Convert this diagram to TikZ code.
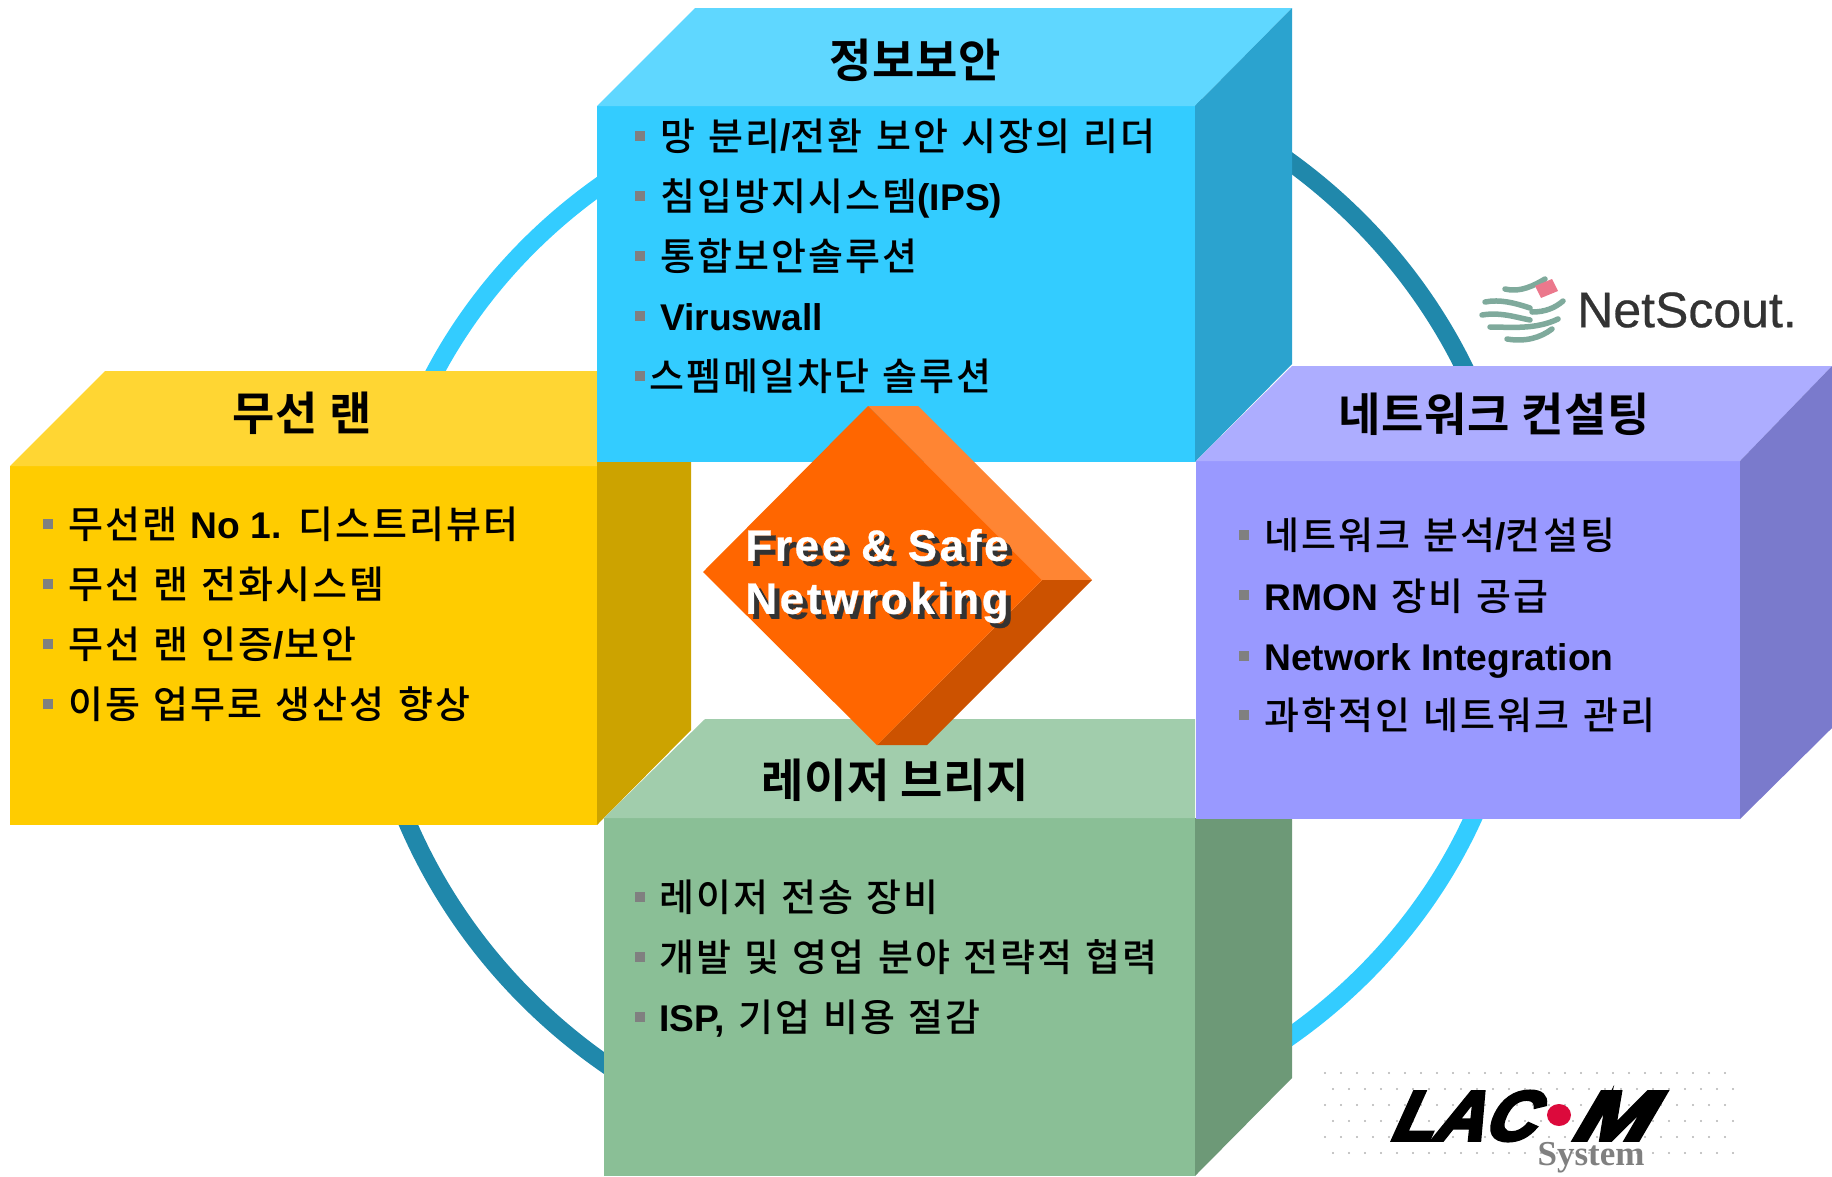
\documentclass[tikz,border=0pt]{standalone}
\usepackage{fontspec}
\setmainfont[WordSpace=1.25]{Noto Sans CJK KR Medium}
\newfontfamily\krbold{Noto Sans CJK KR Bold}
\newfontfamily\latbold{Liberation Sans Bold}
\newfontfamily\latplain{Liberation Sans}
\newfontfamily\serifbold{Liberation Serif Bold}
\newcommand{\lat}[1]{{\latbold\fontsize{37.2}{37.2}\selectfont #1}}
\definecolor{skyfront}{HTML}{33CCFF}
\definecolor{skytop}{HTML}{5FD7FF}
\definecolor{skyside}{HTML}{2BA3CF}
\definecolor{goldfront}{HTML}{FFCC00}
\definecolor{goldtop}{HTML}{FFD633}
\definecolor{goldside}{HTML}{CCA300}
\definecolor{lilacfront}{HTML}{9999FF}
\definecolor{lilactop}{HTML}{ADADFF}
\definecolor{lilacside}{HTML}{7A7ACC}
\definecolor{sagefront}{HTML}{8ABF96}
\definecolor{sagetop}{HTML}{A1CDAC}
\definecolor{sageside}{HTML}{6D9977}
\definecolor{ringdark}{HTML}{2088AB}
\definecolor{flamefront}{HTML}{FF6600}
\definecolor{flametop}{HTML}{FF8533}
\definecolor{flameside}{HTML}{CC5200}
\definecolor{shadowgrey}{HTML}{333333}
\definecolor{globegreen}{HTML}{7FAA9C}
\definecolor{globepink}{HTML}{EB788C}
\definecolor{dotred}{HTML}{DC0A3C}
\tikzset{
  headtxt/.style={font=\krbold\fontsize{46}{46}\selectfont\addfontfeature{LetterSpace=1.5},text=black,inner sep=0pt},
  itemtxt/.style={anchor=west,font=\fontsize{38}{38}\selectfont\addfontfeature{LetterSpace=5.5},text=black,inner sep=0pt,text height=35pt,text depth=6pt},
  itemmark/.style={fill=gray,inner sep=0pt,minimum size=10pt},
  mottotxt/.style={align=center,font=\latbold\fontsize{44}{53}\selectfont\addfontfeature{LetterSpace=6,FakeBold=0.6}},
  lactxt/.style={font=\latbold\fontsize{70}{70}\selectfont\addfontfeature{FakeSlant=0.45,FakeBold=5}},
  ringlite/.style={draw=skyfront,line width=18pt},
  ringdeep/.style={draw=ringdark,line width=18pt},
  globeline/.style={draw=globegreen,line width=5.5pt,line cap=round}
}
\begin{document}
\begin{tikzpicture}[x=1pt,y=-1pt]
\useasboundingbox (0,0) rectangle (1832,1176);
% ring
\draw [ringlite] (376,607) arc [start angle=180,end angle=90,x radius=570pt,y radius=530pt];
\draw [ringdeep] (946,51) arc [start angle=90,end angle=0,x radius=574pt,y radius=556pt];
\draw [ringlite] (1519,607) arc [start angle=0,end angle=-90,x radius=573pt,y radius=537pt];
\draw [ringdeep] (363,607) arc [start angle=180,end angle=260,x radius=583pt,y radius=563pt];
% gold box
\fill [goldfront] (10,466) rectangle (597,825);
\fill [goldtop] (10,466) -- (105,371) -- (597,371) -- (597,466) -- cycle;
\fill [goldside] (597,462) -- (691,462) -- (691,730) -- (597,825) -- cycle;
% sage box
\fill [sagefront] (604,818) rectangle (1195,1176);
\fill [sagetop] (604,818) -- (705,719) -- (1195,719) -- (1195,818) -- cycle;
\fill [sageside] (1195,818) -- (1292,818) -- (1292,1078) -- (1195,1176) -- cycle;
% sky box
\fill [skyfront] (597,106) rectangle (1195,462);
\fill [skytop] (597,106) -- (695,8) -- (1292,8) -- (1195,106) -- cycle;
\fill [skyside] (1195,106) -- (1292,8) -- (1292,364) -- (1195,462) -- cycle;
% lilac box
\fill [lilacfront] (1196,461) rectangle (1740,819);
\fill [lilactop] (1196,461) -- (1292,366) -- (1832,366) -- (1740,461) -- cycle;
\fill [lilacside] (1740,461) -- (1832,366) -- (1832,728) -- (1740,819) -- cycle;
% diamond
\fill [flametop] (868,406) -- (918,406) -- (1092,580) -- (1042,580) -- cycle;
\fill [flameside] (1042,580) -- (1092,580) -- (927,745) -- (877,745) -- cycle;
\fill [flamefront] (703,572) -- (868,406) -- (1042,580) -- (877,745) -- cycle;
\node (shadow) at (882,581) [mottotxt,text=shadowgrey] {Free \& Safe\\Netwroking};
\node (motto)  at (877,576) [mottotxt,text=white] {Free \& Safe\\Netwroking};
% headings
\node (sky)   at (915,60)  [headtxt] {정보보안};
\node (gold)  at (302,413) [headtxt] {무선 랜};
\node (lilac) at (1494,414) [headtxt] {네트워크 컨설팅};
\node (sage)  at (895,780) [headtxt] {레이저 브리지};
% sky items
\node (m1) at (640,136) [itemmark] {};
\node (m2) at (640,196) [itemmark] {};
\node (m3) at (640,256) [itemmark] {};
\node (m4) at (640,316) [itemmark] {};
\node (m5) at (640,376) [itemmark] {};
\node (s1) at (660,136) [itemtxt] {망 분리\lat{/}전환 보안 시장의 리더};
\node (s2) at (660,196) [itemtxt] {침입방지시스템\lat{(IPS)}};
\node (s3) at (660,256) [itemtxt] {통합보안솔루션};
\node (s4) at (660,316) [itemtxt] {\lat{Viruswall}};
\node (s5) at (649,376) [itemtxt] {스펨메일차단 솔루션};
% gold items
\node (m6) at (48,524) [itemmark] {};
\node (m7) at (48,584) [itemmark] {};
\node (m8) at (48,644) [itemmark] {};
\node (m9) at (48,704) [itemmark] {};
\node (g1) at (68,524) [itemtxt] {무선랜 \lat{No 1.} 디스트리뷰터};
\node (g2) at (68,584) [itemtxt] {무선 랜 전화시스템};
\node (g3) at (68,644) [itemtxt] {무선 랜 인증\lat{/}보안};
\node (g4) at (68,704) [itemtxt] {이동 업무로 생산성 향상};
% lilac items
\node (m10) at (1244,535) [itemmark] {};
\node (m11) at (1244,595) [itemmark] {};
\node (m12) at (1244,656) [itemmark] {};
\node (m13) at (1244,715) [itemmark] {};
\node (l1) at (1264,535) [itemtxt] {네트워크 분석\lat{/}컨설팅};
\node (l2) at (1264,596) [itemtxt] {\lat{RMON} 장비 공급};
\node (l3) at (1264,656) [itemtxt] {\lat{Network Integration}};
\node (l4) at (1264,715) [itemtxt] {과학적인 네트워크 관리};
% sage items
\node (m14) at (640,897)  [itemmark] {};
\node (m15) at (640,957)  [itemmark] {};
\node (m16) at (640,1017) [itemmark] {};
\node (a1) at (659,897)  [itemtxt] {레이저 전송 장비};
\node (a2) at (659,957)  [itemtxt] {개발 및 영업 분야 전략적 협력};
\node (a3) at (659,1017) [itemtxt] {\lat{ISP,} 기업 비용 절감};
% netscout logo
\draw [globeline] (1505,289) .. controls (1520,293) and (1535,285) .. (1545,279);
\draw [globeline] (1485,302) .. controls (1500,299) and (1515,303) .. (1530,308);
\draw [globeline] (1482,315) .. controls (1500,312) and (1515,317) .. (1530,320);
\draw [globeline] (1532,312) .. controls (1545,312) and (1555,308) .. (1563,301);
\draw [globeline] (1490,327) .. controls (1510,327) and (1535,330) .. (1558,319);
\draw [globeline] (1507,339) .. controls (1525,342) and (1540,338) .. (1552,329);
\fill [globepink] (1535,286) -- (1552,279) -- (1558,291) -- (1541,298) -- cycle;
\node (netscout) at (1687,310) [text=shadowgrey,font=\latplain\fontsize{50}{50}\selectfont\addfontfeature{FakeBold=0.5}] {NetScout.};
% lacom logo
\foreach \xi in {0,...,25} \foreach \yi in {0,2,4} \fill [black!30] (1325+\xi*16,1073+\yi*16) circle [radius=1.2pt];
\foreach \xi in {0,...,25} \foreach \yi in {1,3,5} \fill [black!30] (1333+\xi*16,1073+\yi*16) circle [radius=1.2pt];
\node (lac) at (1460,1116) [lactxt] {LAC};
\node (lacm) at (1606,1116) [lactxt,xscale=1.3] {M};
\fill [dotred] (1559,1115) ellipse [x radius=12pt,y radius=11pt];
\node (system) at (1591,1158) [text=black!50,font=\serifbold\fontsize{35}{35}\selectfont] {System};
\end{tikzpicture}
\end{document}
